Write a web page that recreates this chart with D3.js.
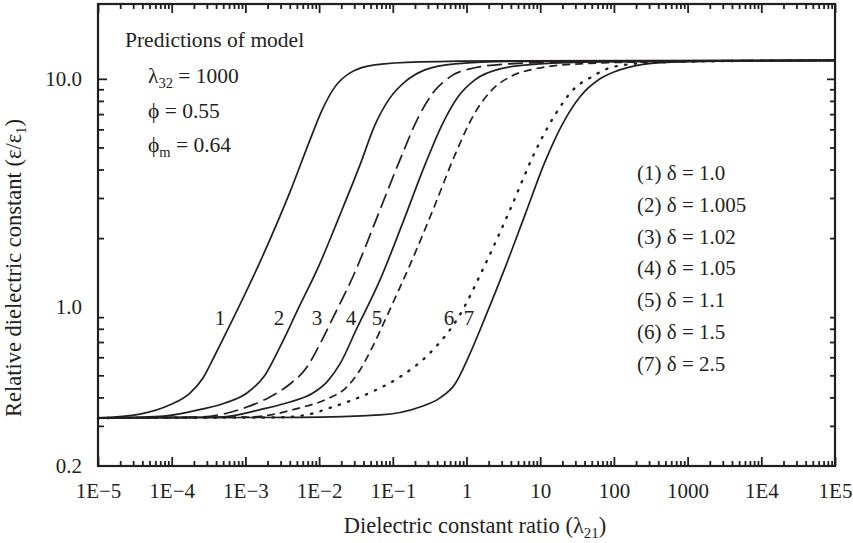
<!DOCTYPE html>
<html>
<head>
<meta charset="utf-8">
<script src="https://cdn.jsdelivr.net/npm/d3@7"></script>
<style>
  html, body { margin: 0; padding: 0; background: #fff; }
  svg text { font-family: "Liberation Serif", "Times New Roman", serif; fill: #231f20; }
</style>
</head>
<body>
<svg id="chart" width="853" height="543"></svg>
<script>
// ---------- data ----------
const xTickValues = [1e-5, 1e-4, 1e-3, 1e-2, 1e-1, 1, 10, 100, 1000, 1e4, 1e5];
const xTickLabels = ["1E\u22125", "1E\u22124", "1E\u22123", "1E\u22122", "1E\u22121", "1", "10", "100", "1000", "1E4", "1E5"];
const yTickValues = [0.2, 1, 10];
const yTickLabels = ["0.2", "1.0", "10.0"];

const curveLabels = ["1", "2", "3", "4", "5", "6", "7"];
const legendLabels = ["1.0", "1.005", "1.02", "1.05", "1.1", "1.5", "2.5"];

// [lambda21, eps/eps1]
const curve1 = [[1e-5,0.325],[3.72e-5,0.338],[9.48e-5,0.371],[1.77e-4,0.418],[2.66e-4,0.487],[3.87e-4,0.614],[6.18e-4,0.832],[1.58e-3,1.573],[4.03e-3,3.19],[7.53e-3,5.40],[0.0110,7.31],[0.0164,9.22],[0.0263,10.62],[0.0573,11.52],[0.234,11.87],[2.85,12.0],[1e5,12.05]];
const curve2 = [[1e-5,0.325],[6.94e-5,0.330],[2.66e-4,0.356],[5.29e-4,0.378],[1.05e-3,0.418],[1.85e-3,0.502],[2.95e-3,0.666],[5.51e-3,1.018],[9.37e-3,1.45],[0.0192,2.53],[0.0359,4.19],[0.0573,6.28],[0.0916,8.25],[0.146,9.70],[0.273,10.95],[0.698,11.64],[5.32,11.93],[1e5,12.05]];
const curve3 = [[1e-5,0.325],[2.42e-4,0.328],[1.05e-3,0.363],[2.16e-3,0.402],[4.03e-3,0.458],[6.85e-3,0.544],[0.0103,0.687],[0.0154,0.893],[0.0307,1.42],[0.0630,2.53],[0.125,4.41],[0.220,6.74],[0.351,8.68],[0.597,10.2],[1.30,11.18],[3.89,11.64],[25.4,11.87],[1e5,12.05]];
const curve4 = [[1e-5,0.325],[4.52e-4,0.328],[1.73e-3,0.356],[4.03e-3,0.382],[8.26e-3,0.418],[0.0128,0.468],[0.0192,0.561],[0.0327,0.807],[0.0671,1.311],[0.138,2.357],[0.273,4.19],[0.480,6.41],[0.767,8.34],[1.30,9.90],[2.85,11.06],[9.94,11.64],[64.8,11.87],[1e5,12.05]];
const curve5 = [[1e-5,0.325],[1.15e-3,0.328],[5.51e-3,0.360],[0.0120,0.390],[0.0239,0.445],[0.0359,0.528],[0.0522,0.659],[0.0809,0.893],[0.171,1.526],[0.351,2.66],[0.698,4.64],[1.30,7.09],[2.22,8.95],[3.89,10.2],[8.50,11.06],[34.7,11.64],[309,11.87],[1e5,12.05]];
const curve6 = [[1e-5,0.325],[2.95e-3,0.327],[7.53e-3,0.338],[0.0141,0.360],[0.0263,0.386],[0.0522,0.423],[0.125,0.492],[0.320,0.627],[0.767,0.893],[1.78,1.526],[3.89,2.66],[8.50,4.78],[15.9,6.95],[29.7,9.13],[47.4,10.1],[80.6,11.06],[141,11.52],[422,11.81],[2750,11.96],[1e5,12.05]];
const curve7 = [[1e-5,0.325],[5.51e-3,0.327],[0.0671,0.335],[0.234,0.363],[0.437,0.398],[0.698,0.458],[1.05,0.596],[1.78,0.893],[3.33,1.48],[6.22,2.53],[11.6,4.32],[19.8,6.28],[34.7,8.34],[64.8,10.0],[110,10.84],[193,11.40],[525,11.81],[2750,11.96],[1e5,12.05]];

const curves = [curve1, curve2, curve3, curve4, curve5, curve6, curve7];
const curveDash = [null, null, "15,6", null, "8,5", "1.2,8.5", null];
// curve number label positions (data coordinates)
const labelLambda = [4.52e-4, 2.86e-3, 9.37e-3, 0.0271, 0.0611, 0.579, 1.08];
const labelEps = [0.893, 0.893, 0.893, 0.893, 0.893, 0.893, 0.893];

// ---------- layout ----------
const L = 98, R = 835, T = 4, B = 466;
const svg = d3.select("#chart");
const x = d3.scaleLog().domain([1e-5, 1e5]).range([L, R]);
const y = d3.scaleLog().domain([0.2, 21.3]).range([B, T]);

const minorX = [];
for (let e = -5; e < 5; e++) for (let k = 2; k <= 9; k++) minorX.push(k * Math.pow(10, e));
const minorY = [];
[0.1, 1].forEach(d => { for (let k = 2; k <= 9; k++) { const v = k * d; if (v > 0.2 + 1e-9 && v < 21) minorY.push(v); } });

const axisStyle = g => {
  g.select(".domain").remove();
  g.selectAll(".tick line").attr("stroke", "#231f20").attr("stroke-width", 1.8);
};

// bottom axis: minor + major (inward)
svg.append("g").attr("transform", `translate(0,${B})`)
  .call(d3.axisBottom(x).tickValues(minorX).tickSize(-5).tickFormat(""))
  .call(axisStyle);
svg.append("g").attr("transform", `translate(0,${B})`)
  .call(d3.axisBottom(x).tickValues(xTickValues).tickSize(-9).tickPadding(17)
        .tickFormat((d, i) => xTickLabels[i]))
  .call(axisStyle)
  .call(g => g.selectAll(".tick text").attr("font-size", 21).attr("fill", "#231f20"));
// top axis
svg.append("g").attr("transform", `translate(0,${T})`)
  .call(d3.axisTop(x).tickValues(minorX).tickSize(-5).tickFormat(""))
  .call(axisStyle);
svg.append("g").attr("transform", `translate(0,${T})`)
  .call(d3.axisTop(x).tickValues(xTickValues).tickSize(-9).tickFormat(""))
  .call(axisStyle);

// left axis
svg.append("g").attr("transform", `translate(${L},0)`)
  .call(d3.axisLeft(y).tickValues(minorY).tickSize(-6).tickFormat(""))
  .call(axisStyle);
svg.append("g").attr("transform", `translate(${L},0)`)
  .call(d3.axisLeft(y).tickValues([10]).tickSize(-9).tickFormat(""))
  .call(axisStyle);
svg.append("g").attr("transform", `translate(${L},0)`)
  .call(d3.axisLeft(y).tickValues(yTickValues).tickSize(0).tickPadding(16)
        .tickFormat((d, i) => yTickLabels[i]))
  .call(axisStyle)
  .call(g => g.selectAll(".tick text").attr("font-size", 21).attr("fill", "#231f20"));
// right axis
svg.append("g").attr("transform", `translate(${R},0)`)
  .call(d3.axisRight(y).tickValues(minorY).tickSize(-5).tickFormat(""))
  .call(axisStyle);
svg.append("g").attr("transform", `translate(${R},0)`)
  .call(d3.axisRight(y).tickValues([10]).tickSize(-8).tickFormat(""))
  .call(axisStyle);

// frame
svg.append("rect").attr("x", L).attr("y", T).attr("width", R - L).attr("height", B - T)
  .attr("fill", "none").attr("stroke", "#231f20").attr("stroke-width", 2.2);

// curves
const line = d3.line().x(d => x(d[0])).y(d => y(d[1])).curve(d3.curveMonotoneX);
curves.forEach((c, i) => {
  svg.append("path").datum(c).attr("d", line)
    .attr("fill", "none").attr("stroke", "#231f20")
    .attr("stroke-width", i === 5 ? 2.4 : 1.7)
    .attr("stroke-linecap", i === 5 ? "round" : "butt")
    .attr("stroke-dasharray", curveDash[i]);
});

// curve number labels
svg.append("g").selectAll("text").data(curveLabels).join("text")
  .attr("x", (d, i) => x(labelLambda[i])).attr("y", (d, i) => y(labelEps[i]) + 7)
  .attr("text-anchor", "middle").attr("font-size", 21).text(d => d);

// annotation block
const ann = svg.append("g").attr("font-size", 21.5);
ann.append("text").attr("x", 125).attr("y", 47).text("Predictions of model");
const t1 = ann.append("text").attr("x", 148).attr("y", 83);
t1.append("tspan").text("\u03bb");
t1.append("tspan").attr("font-size", 14.5).attr("dy", 5).text("32");
t1.append("tspan").attr("dy", -5).text(" = 1000");
ann.append("text").attr("x", 148).attr("y", 118).text("\u03d5 = 0.55");
const t3 = ann.append("text").attr("x", 148).attr("y", 152);
t3.append("tspan").text("\u03d5");
t3.append("tspan").attr("font-size", 14.5).attr("dy", 5).text("m");
t3.append("tspan").attr("dy", -5).text(" = 0.64");

// legend
svg.append("g").attr("font-size", 21).selectAll("text").data(legendLabels).join("text")
  .attr("x", 637).attr("y", (d, i) => 180 + i * 31.8)
  .text((d, i) => `(${curveLabels[i]}) \u03b4 = ${d}`);

// axis titles
const xt = svg.append("text").attr("x", 475).attr("y", 533).attr("text-anchor", "middle").attr("font-size", 22.5);
xt.append("tspan").text("Dielectric constant ratio (\u03bb");
xt.append("tspan").attr("font-size", 15).attr("dy", 5).text("21");
xt.append("tspan").attr("dy", -5).text(")");

const yt = svg.append("text").attr("transform", "translate(21,268) rotate(-90)")
  .attr("text-anchor", "middle").attr("font-size", 22.5);
yt.append("tspan").text("Relative dielectric constant (\u03b5/\u03b5");
yt.append("tspan").attr("font-size", 15).attr("dy", 5).text("1");
yt.append("tspan").attr("dy", -5).text(")");
</script>
</body>
</html>
